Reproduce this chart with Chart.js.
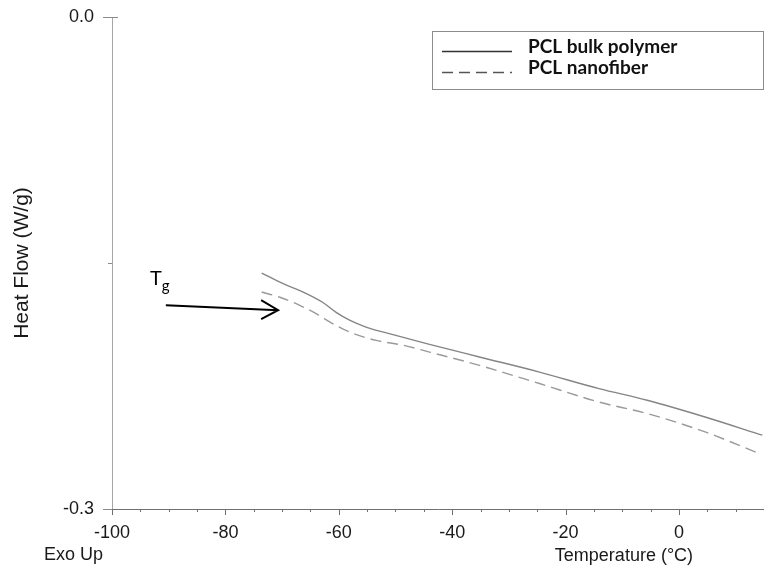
<!DOCTYPE html>
<html>
<head>
<meta charset="utf-8">
<script src="https://cdn.jsdelivr.net/npm/chart.js@4.4.1/dist/chart.umd.min.js"></script>
<style>
  html, body { margin: 0; padding: 0; background: #fff; }
  #wrap { width: 764px; height: 565px; }
</style>
</head>
<body>
<div id="wrap"><canvas id="dscChart" width="764" height="565"></canvas></div>
<script>
// DSC scans: temperature (°C) vs heat flow (W/g)
const bulkTemp  = [-73.6, -69.8, -66.3, -62.8, -60.4, -58.1, -55.2, -51.1, -44.0, -35.2, -24.6, -14.1, -5.6, 4.6, 14.7];
const bulkFlow  = [-0.1561, -0.1626, -0.1677, -0.1741, -0.1803, -0.1849, -0.1891, -0.1931, -0.1996, -0.2073, -0.2165, -0.2266, -0.2337, -0.2439, -0.2550];
const fiberTemp = [-73.6, -70.4, -66.9, -64.0, -61.1, -58.1, -53.4, -48.7, -44.0, -35.2, -24.6, -14.1, -5.6, 4.6, 14.1];
const fiberFlow = [-0.1677, -0.1709, -0.1758, -0.1809, -0.1869, -0.1921, -0.1972, -0.2001, -0.2043, -0.2124, -0.2235, -0.2348, -0.2418, -0.2530, -0.2661];
const seriesNames = ['PCL bulk polymer', 'PCL nanofiber'];
const xTickLabels = [-100, -80, -60, -40, -20, 0];
const yTickLabels = [0.0, -0.3];

// Tg marker (data units)
const tgArrowFrom = [-90.5, -0.1758];
const tgArrowTo   = [-70.7, -0.1788];
const tgLabelAt   = [-93.3, -0.1634];

const SANS = '"Liberation Sans", Arial, sans-serif';
const LABEL_FONT = 'Lato, "Open Sans", sans-serif';

const toPoints = (xs, ys) => xs.map((x, i) => ({ x, y: ys[i] }));

// keep the plot box fixed: no extra room for edge labels
const noEdgePadding = s => {
    s.paddingLeft = 0;
    s.paddingRight = 0;
    s.paddingTop = 0;
    s.paddingBottom = 0;
};

// axis ticks, legend box, Tg arrow and the bottom captions
const dscDecor = {
    id: 'dscDecor',
    afterDraw(chart) {
        const { ctx, chartArea: area, scales: { x, y } } = chart;
        ctx.save();

        // x axis runs a little past the y axis
        ctx.strokeStyle = '#707070';
        ctx.lineWidth = 1;
        ctx.beginPath();
        ctx.moveTo(area.left - 9, Math.round(area.bottom) + 0.5);
        ctx.lineTo(area.left, Math.round(area.bottom) + 0.5);
        ctx.stroke();

        // x ticks: long on labelled values, short between
        x.ticks.forEach(t => {
            const px = Math.round(x.getPixelForValue(t.value)) + 0.5;
            const len = xTickLabels.includes(t.value) ? 6 : 3;
            ctx.beginPath();
            ctx.moveTo(px, area.bottom);
            ctx.lineTo(px, area.bottom + len);
            ctx.stroke();
        });

        // y ticks
        ctx.strokeStyle = '#8a8a8a';
        y.ticks.forEach(t => {
            const py = Math.round(y.getPixelForValue(t.value)) + 0.5;
            const labelled = yTickLabels.some(v => Math.abs(v - t.value) < 1e-6);
            ctx.beginPath();
            ctx.moveTo(area.left - (labelled ? 9 : 4), py);
            ctx.lineTo(area.left + (t.value === 0 ? 6 : 0), py);
            ctx.stroke();
        });

        // legend box
        const ds = chart.data.datasets;
        ctx.strokeStyle = '#8c8c8c';
        ctx.strokeRect(432.5, 31.5, 331, 58);
        ctx.font = 'bold 19px ' + LABEL_FONT;
        ctx.fillStyle = '#111';
        ctx.textBaseline = 'alphabetic';
        [51, 72].forEach((ly, i) => {
            ctx.strokeStyle = i === 0 ? '#333' : '#555';
            ctx.lineWidth = 1.3;
            ctx.setLineDash(ds[i].borderDash || []);
            ctx.beginPath();
            ctx.moveTo(442, ly + 0.5);
            ctx.lineTo(512, ly + 0.5);
            ctx.stroke();
            ctx.setLineDash([]);
            ctx.fillText(ds[i].label, 528, ly + 2);
        });

        // Tg arrow
        const ax0 = x.getPixelForValue(tgArrowFrom[0]), ay0 = y.getPixelForValue(tgArrowFrom[1]);
        const ax1 = x.getPixelForValue(tgArrowTo[0]), ay1 = y.getPixelForValue(tgArrowTo[1]);
        ctx.strokeStyle = '#000';
        ctx.lineWidth = 2;
        ctx.beginPath();
        ctx.moveTo(ax0, ay0);
        ctx.lineTo(ax1, ay1);
        ctx.moveTo(ax1 - 17, ay1 - 10);
        ctx.lineTo(ax1, ay1);
        ctx.lineTo(ax1 - 17, ay1 + 9);
        ctx.stroke();

        const tx = x.getPixelForValue(tgLabelAt[0]), ty = y.getPixelForValue(tgLabelAt[1]);
        ctx.fillStyle = '#000';
        ctx.font = '20px ' + LABEL_FONT;
        ctx.textAlign = 'left';
        ctx.fillText('T', tx, ty);
        const tw = ctx.measureText('T').width;
        ctx.font = '15px ' + LABEL_FONT;
        ctx.fillText('g', tx + tw, ty + 6);

        // bottom captions
        ctx.fillStyle = '#1a1a1a';
        ctx.font = '18px ' + SANS;
        ctx.textBaseline = 'middle';
        ctx.textAlign = 'left';
        ctx.fillText('Exo Up', 44, 555);
        ctx.textAlign = 'center';
        ctx.fillText('Temperature (°C)', x.getPixelForValue(-9.7), 556);

        ctx.restore();
    }
};

document.addEventListener('DOMContentLoaded', function () {
    const ctx = document.getElementById('dscChart').getContext('2d');
    new Chart(ctx, {
        type: 'line',
        data: {
            datasets: [{
                label: seriesNames[0],
                data: toPoints(bulkTemp, bulkFlow),
                borderColor: '#858585',
                borderWidth: 1.4,
                pointRadius: 0,
                fill: false,
                cubicInterpolationMode: 'monotone'
            }, {
                label: seriesNames[1],
                data: toPoints(fiberTemp, fiberFlow),
                borderColor: '#9a9a9a',
                borderWidth: 1.4,
                borderDash: [11, 6],
                pointRadius: 0,
                fill: false,
                cubicInterpolationMode: 'monotone'
            }]
        },
        options: {
            responsive: false,
            animation: false,
            layout: { padding: { top: 17, right: 0, bottom: 0, left: 0 } },
            plugins: { legend: { display: false }, tooltip: { enabled: false } },
            scales: {
                x: {
                    type: 'linear',
                    min: -100,
                    max: 15,
                    grid: { display: false },
                    border: { display: true, color: '#707070', width: 1 },
                    ticks: {
                        stepSize: 5,
                        autoSkip: false,
                        maxRotation: 0,
                        padding: 5,
                        color: '#1a1a1a',
                        font: { family: SANS, size: 18 },
                        callback: v => xTickLabels.includes(v) ? String(v) : ''
                    },
                    afterFit: s => { s.height = 56; noEdgePadding(s); }
                },
                y: {
                    type: 'linear',
                    min: -0.3,
                    max: 0,
                    grid: { display: false },
                    border: { display: true, color: '#a6a6a6', width: 1 },
                    ticks: {
                        stepSize: 0.15,
                        padding: 10,
                        color: '#1a1a1a',
                        font: { family: SANS, size: 18 },
                        callback: v => {
                            const hit = yTickLabels.find(t => Math.abs(t - v) < 1e-6);
                            return hit === undefined ? '' : hit.toFixed(1);
                        }
                    },
                    title: {
                        display: true,
                        text: 'Heat Flow (W/g)',
                        color: '#1a1a1a',
                        font: { family: SANS, size: 21 },
                        padding: { top: 10, bottom: 0 }
                    },
                    afterFit: s => { s.width = 112; noEdgePadding(s); }
                }
            }
        },
        plugins: [dscDecor]
    });
});
</script>
</body>
</html>
